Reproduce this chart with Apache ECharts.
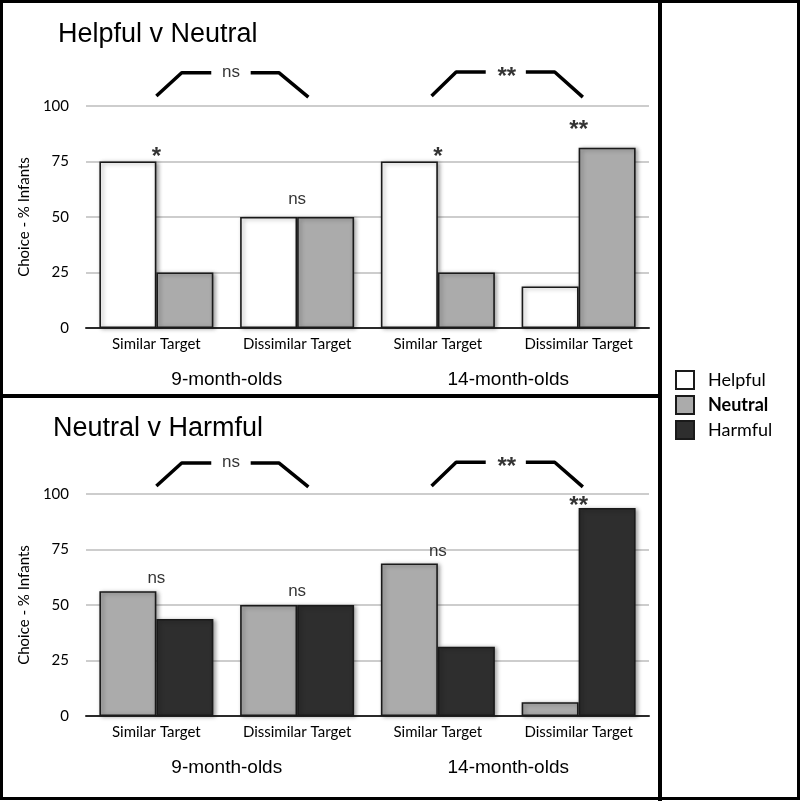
<!DOCTYPE html>
<html>
<head>
<meta charset="utf-8">
<script src="https://cdn.jsdelivr.net/npm/echarts@6/dist/echarts.min.js"></script>
<style>html,body{margin:0;padding:0;background:#fff}#c{width:800px;height:801px}</style>
</head>
<body>
<div id="c"></div>
<script>
// ---- data ----
const categories = ['Similar Target', 'Dissimilar Target', 'Similar Target', 'Dissimilar Target'];
const ageGroups = ['9-month-olds', '14-month-olds'];
const yTicks = [0, 25, 50, 75, 100];

const helpfulTop = [75, 50, 75, 18.75];
const neutralTop = [25, 50, 25, 81.25];
const neutralBottom = [56.25, 50, 68.75, 6.25];
const harmfulBottom = [43.75, 50, 31.25, 93.75];

const annTopText = ['*', 'ns', '*', '**'];
const annTopY = [79, 57.7, 79, 91.4];
const annBottomText = ['ns', 'ns', 'ns', '**'];
const annBottomY = [61.7, 55.9, 73.9, 96.8];

const bracketX = [[0, 0.18, 0.39], [0.67, 0.87, 1.08], [1.955, 2.13, 2.34], [2.625, 2.83, 3.03]];
const bracketYTop = [[104.5, 115, 115], [115, 115, 104], [104.5, 115.3, 115.3], [115.3, 115.3, 104]];
const bracketYBottom = [[103.6, 114, 114], [114, 114, 103.2], [103.6, 114.3, 114.3], [114.3, 114.3, 103.2]];
const bracketLabelText = ['ns', '**'];
const bracketLabelX = [0.53, 2.49];
const bracketLabelYTop = [114.5, 115.3];
const bracketLabelYBottom = [113.8, 114.3];

// ---- styles ----
const SANS = 'Liberation Sans';
const GILL = 'Lato';
const colors = { Helpful: '#ffffff', Neutral: '#ababab', Harmful: '#2e2e2e' };
const gridTops = [106, 494];

function barSeries(name, data, idx) {
  return {
    type: 'bar', name: name, data: data, xAxisIndex: idx * 3, yAxisIndex: idx,
    barWidth: 57, barGap: '0%',
    itemStyle: { color: colors[name], borderColor: '#1a1a1a', borderWidth: 1.6,
      shadowBlur: 4, shadowOffsetX: 2, shadowOffsetY: 1, shadowColor: 'rgba(0,0,0,0.35)' },
    emphasis: { disabled: true }, silent: true
  };
}
function textLabel(t) {
  const star = t.indexOf('*') >= 0;
  return {
    show: true, position: 'inside', formatter: t,
    fontFamily: SANS, color: '#000',
    fontSize: star ? 24 : 17,
    fontWeight: star ? 'bold' : 'normal',
    offset: star ? [0, 5] : [0, -1]
  };
}
function annSeries(texts, ys, idx) {
  return {
    type: 'scatter', xAxisIndex: idx * 3, yAxisIndex: idx, symbolSize: 0, clip: false, silent: true,
    data: texts.map((t, i) => ({ value: [i, ys[i]], label: textLabel(t) }))
  };
}
function bracketSeries(ysArr, idx) {
  return bracketX.map((xs, k) => ({
    type: 'line', xAxisIndex: idx * 3 + 2, yAxisIndex: idx, clip: false, silent: true,
    symbol: 'none', lineStyle: { color: '#000', width: 3.5 },
    data: xs.map((x, j) => [x, ysArr[k][j]])
  }));
}
function bracketLabelSeries(ys, idx) {
  return {
    type: 'scatter', xAxisIndex: idx * 3 + 2, yAxisIndex: idx, symbolSize: 0, clip: false, silent: true,
    data: bracketLabelText.map((t, i) => ({ value: [bracketLabelX[i], ys[i]], label: textLabel(t) }))
  };
}

const grids = gridTops.map(t => ({ left: 86, width: 563, top: t, height: 222 }));
const xAxes = [];
const yAxes = [];
[0, 1].forEach(g => {
  xAxes.push({
    type: 'category', gridIndex: g, data: categories,
    axisLine: { show: true, lineStyle: { color: '#2a2a2a', width: 2 } },
    axisTick: { show: false },
    axisLabel: { margin: 9, fontFamily: GILL, fontSize: 15, color: '#000', interval: 0 }
  });
  xAxes.push({
    type: 'category', gridIndex: g, data: ageGroups, position: 'bottom', offset: 34,
    axisLine: { show: false }, axisTick: { show: false }, splitLine: { show: false },
    axisLabel: { margin: 8, fontFamily: SANS, fontSize: 19, color: '#000', interval: 0 }
  });
  xAxes.push({ type: 'value', gridIndex: g, min: -0.5, max: 3.5, show: false });
  yAxes.push({
    type: 'value', gridIndex: g, min: yTicks[0], max: yTicks[yTicks.length - 1], interval: yTicks[1] - yTicks[0],
    name: 'Choice - % Infants', nameLocation: 'middle', nameGap: 50,
    nameTextStyle: { fontFamily: GILL, fontSize: 15, color: '#000' },
    axisLine: { show: false }, axisTick: { show: false },
    axisLabel: { margin: 17, fontFamily: GILL, fontSize: 15, color: '#000' },
    splitLine: { show: true, lineStyle: { color: '#bdbdbd', width: 1.5 } }
  });
});

const series = [
  barSeries('Helpful', helpfulTop, 0),
  barSeries('Neutral', neutralTop, 0),
  barSeries('Neutral', neutralBottom, 1),
  barSeries('Harmful', harmfulBottom, 1),
  annSeries(annTopText, annTopY, 0),
  annSeries(annBottomText, annBottomY, 1),
  ...bracketSeries(bracketYTop, 0),
  ...bracketSeries(bracketYBottom, 1),
  bracketLabelSeries(bracketLabelYTop, 0),
  bracketLabelSeries(bracketLabelYBottom, 1)
];

const chart = echarts.init(document.getElementById('c'), null, { renderer: 'canvas' });
chart.setOption({
  animation: false,
  backgroundColor: '#fff',
  title: [
    { text: 'Helpful v Neutral', left: 58, top: 21, padding: 0,
      textStyle: { fontFamily: SANS, fontSize: 27, fontWeight: 'normal', color: '#000' } },
    { text: 'Neutral v Harmful', left: 53, top: 415, padding: 0,
      textStyle: { fontFamily: SANS, fontSize: 27, fontWeight: 'normal', color: '#000' } }
  ],
  legend: {
    orient: 'vertical', left: 675, top: 370, padding: 0,
    itemWidth: 18, itemHeight: 18, itemGap: 5, icon: 'rect',
    data: ['Helpful', { name: 'Neutral', textStyle: { fontWeight: 'bold' } }, 'Harmful'],
    textStyle: { fontFamily: GILL, fontSize: 18, color: '#000', padding: [0, 0, 0, 9] },
    selectedMode: false
  },
  grid: grids,
  xAxis: xAxes,
  yAxis: yAxes,
  series: series,
  graphic: [
    { type: 'rect', shape: { x: 1.5, y: 1.5, width: 797, height: 797 }, style: { fill: 'none', stroke: '#000', lineWidth: 3 }, silent: true },
    { type: 'line', shape: { x1: 660, y1: 0, x2: 660, y2: 801 }, style: { stroke: '#000', lineWidth: 4 }, silent: true },
    { type: 'line', shape: { x1: 0, y1: 396, x2: 660, y2: 396 }, style: { stroke: '#000', lineWidth: 4 }, silent: true }
  ]
});
</script>
</body>
</html>
